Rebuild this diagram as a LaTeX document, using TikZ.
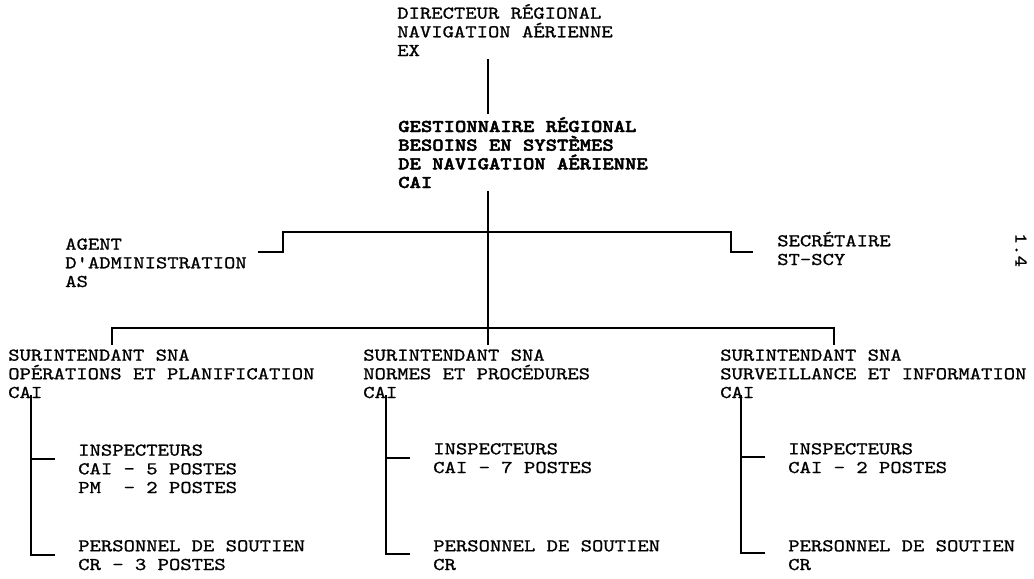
\documentclass[tikz,border=0pt]{standalone}
\usepackage{fontspec}
\setmonofont{lmmono10-regular.otf}[FakeStretch=1.2, FakeBold=1, BoldFont=lmmonolt10-bold.otf, BoldFeatures={FakeStretch=1.2, FakeBold=2.5}]
\usepackage{tikz}
\usetikzlibrary{positioning}

\begin{document}
\begin{tikzpicture}[x=0.75pt,y=-0.75pt,
  post/.style={anchor=base west, align=left, inner sep=0pt, font=\ttfamily\fontsize{13.5}{14}\selectfont},
  link/.style={line width=1.1pt}]
\useasboundingbox (0,0) rectangle (1034,578);

\node (dir) [post] at (397,56) {DIRECTEUR RÉGIONAL\\NAVIGATION AÉRIENNE\\EX};
\node (gest) [post, font=\ttfamily\bfseries\fontsize{13.5}{14}\selectfont] at (398,188) {GESTIONNAIRE RÉGIONAL\\BESOINS EN SYSTÈMES\\DE NAVIGATION AÉRIENNE\\CAI};
\node (agent) [post] at (65,287) {AGENT\\D'ADMINISTRATION\\AS};
\node (secr) [post] at (777,265) {SECRÉTAIRE\\ST-SCY};

\node (ops) [post] at (8,398) {SURINTENDANT SNA\\OPÉRATIONS ET PLANIFICATION\\CAI};
\node (norm) [post] at (363,398) {SURINTENDANT SNA\\NORMES ET PROCÉDURES\\CAI};
\node (surv) [post] at (720,398) {SURINTENDANT SNA\\SURVEILLANCE ET INFORMATION\\CAI};

\node (insops) [post] at (78,493) {INSPECTEURS\\CAI - 5 POSTES\\PM\ \ - 2 POSTES};
\node (insnorm) [post] at (433,473) {INSPECTEURS\\CAI - 7 POSTES};
\node (inssurv) [post] at (788,473) {INSPECTEURS\\CAI - 2 POSTES};
\node (perops) [post] at (78,570) {PERSONNEL DE SOUTIEN\\CR - 3 POSTES};
\node (pernorm) [post] at (433,570) {PERSONNEL DE SOUTIEN\\CR};
\node (persurv) [post] at (788,570) {PERSONNEL DE SOUTIEN\\CR};

\node (page) [post, anchor=center, rotate=-90] at (1021,250) {1.4};

\coordinate (trunk) at (488,0);
\coordinate (upper) at (0,232);
\coordinate (lower) at (0,328);
\coordinate (agtip) at (258,252);
\coordinate (sctip) at (753,252);
\coordinate (dropops) at (112,0);
\coordinate (dropsurv) at (834,0);

\draw[link] ([yshift=-2pt]dir.south -| trunk) -- ([yshift=2pt]gest.north -| trunk);
\draw[link] ([yshift=-2pt]gest.south -| trunk) -- ([yshift=3pt]norm.north -| trunk);
\draw[link] (agtip) -- ++(25,0) -- ++(0,-20) -- ++(448,0) -- ++(0,20) -- (sctip);
\draw[link] ([yshift=3pt]ops.north -| dropops) |- (lower -| dropsurv) -- ([yshift=3pt]surv.north -| dropsurv);

\draw[link] ([shift={(-47,-3)}]ops.south -| insops.west) |- ([shift={(-23,15)}]perops.north west);
\draw[link] ([shift={(-47,15)}]insops.north west) -- ([shift={(-23,15)}]insops.north west);
\draw[link] ([shift={(-47,-3)}]norm.south -| insnorm.west) |- ([shift={(-23,14)}]pernorm.north west);
\draw[link] ([shift={(-47,15)}]insnorm.north west) -- ([shift={(-23,15)}]insnorm.north west);
\draw[link] ([shift={(-47,-3)}]surv.south -| inssurv.west) |- ([shift={(-23,13)}]persurv.north west);
\draw[link] ([shift={(-47,14)}]inssurv.north west) -- ([shift={(-23,14)}]inssurv.north west);
\end{tikzpicture}
\end{document}
